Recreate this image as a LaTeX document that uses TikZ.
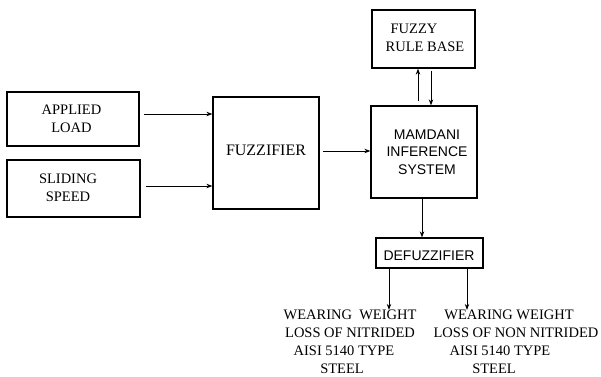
\documentclass[tikz,border=0pt]{standalone}
\usepackage{fontspec}
\setmainfont{Liberation Serif}
\setsansfont{Liberation Sans}
\usetikzlibrary{arrows.meta}
\begin{document}
\begin{tikzpicture}[x=1pt,y=-1pt,
  box/.style={draw,line width=1.3pt,inner sep=0pt},
  serif/.style={font=\fontsize{14.5}{18}\selectfont,align=center,inner sep=0pt},
  sans/.style={font=\sffamily\fontsize{14}{17.5}\selectfont,align=center,inner sep=0pt},
  arr/.style={line width=0.8pt,-{Stealth[length=6pt,width=4.5pt]}}]
\useasboundingbox (0,0) rectangle (601,376);
% boxes
\node[box,minimum width=132pt,minimum height=54pt] (load) at (73,119) {};
\node[serif] (loadt) at (71.5,119) {APPLIED\\LOAD};
\node[box,minimum width=133pt,minimum height=57pt] (speed) at (73.5,188.5) {};
\node[serif] (speedt) at (68,187.5) {SLIDING\\SPEED};
\node[box,minimum width=106pt,minimum height=112pt] (fuzz) at (266,153) {};
\node[serif,font=\fontsize{16}{18}\selectfont] (fuzzt) at (266,150) {FUZZIFIER};
\node[box,minimum width=103pt,minimum height=58pt] (rule) at (423.5,39) {};
\node[serif] (rulet1) at (414,29) {FUZZY};
\node[serif] (rulet2) at (425,47) {RULE BASE};
\node[box,minimum width=106pt,minimum height=92pt] (mam) at (424,152) {};
\node[sans] (mamt) at (427,152) {MAMDANI\\INFERENCE\\SYSTEM};
\node[box,minimum width=107pt,minimum height=30pt] (defuz) at (429.5,253) {};
\node[sans] (defuzt) at (429,256) {DEFUZZIFIER};
% outputs
\node[serif] (o1a) at (350,315) {WEARING\ \ WEIGHT};
\node[serif] (o1b) at (350,333) {LOSS OF NITRIDED};
\node[serif] (o1c) at (344,351) {AISI 5140 TYPE};
\node[serif] (o1d) at (342,369) {STEEL};
\node[serif] (o2a) at (509,315) {WEARING WEIGHT};
\node[serif] (o2b) at (516,333) {LOSS OF NON NITRIDED};
\node[serif] (o2c) at (500,351) {AISI 5140 TYPE};
\node[serif] (o2d) at (494,369) {STEEL};
% arrows
\draw[arr] ([xshift=4pt]load.east |- 0,114) -- (fuzz.west |- 0,114);
\draw[arr] ([xshift=5pt]speed.east |- 0,186) -- (fuzz.west |- 0,186);
\draw[arr] ([xshift=3pt]fuzz.east |- 0,151) -- (mam.west |- 0,151);
\draw[arr] (418,0 |- mam.north) ++(0,-4) -- (418,0 |- rule.south);
\draw[arr] (431,0 |- rule.south) ++(0,2) -- (431,0 |- mam.north);
\draw[arr] (422,0 |- mam.south) -- (422,0 |- defuz.north);
\draw[arr] (389,0 |- defuz.south) -- (389,0 |- o1a.north);
\draw[arr] (467,0 |- defuz.south) -- (467,0 |- o2a.north);
\end{tikzpicture}
\end{document}
